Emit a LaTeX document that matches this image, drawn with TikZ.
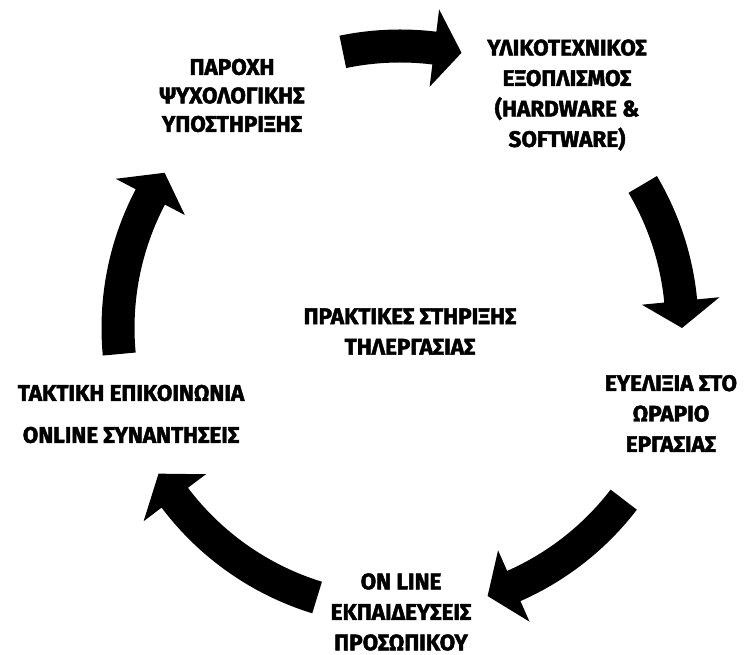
\documentclass[tikz,border=0pt]{standalone}
\usepackage{fontspec}
\setmainfont{Fira Sans}
\newfontfamily\heavyfont{Fira Sans}[UprightFont=* Bold, FakeBold=2]
\newcommand\blockarc[3]{%
  \fill[blockarrow, shift={(400,327)}]
    (#1:298.5) arc[start angle=#1, end angle=#2, radius=298.5]
    -- (#2:321) -- (#3:282) -- (#2:243) -- (#2:265.5)
    arc[start angle=#2, end angle=#1, radius=265.5] -- cycle;}
\begin{document}
\begin{tikzpicture}[x=1pt,y=1pt,
  lbl/.style={align=center, inner sep=0pt, font=\heavyfont\fontsize{22.5}{30.5}\selectfont},
  blockarrow/.style={fill=black, draw=none}]
\useasboundingbox (0,0) rectangle (746,655);
\fill[white] (0,0) rectangle (746,655);
% labels
\node[lbl, font=\heavyfont\fontsize{22.5}{28.5}\selectfont] (psy) at (232,559.5) {ΠΑΡΟΧΗ\\ΨΥΧΟΛΟΓΙΚΗΣ\\ΥΠΟΣΤΗΡΙΞΗΣ};
\node[lbl] (hw) at (567,560) {ΥΛΙΚΟΤΕΧΝΙΚΟΣ\\ΕΞΟΠΛΙΣΜΟΣ\\(HARDWARE \&\\SOFTWARE)};
\node[lbl] (ctr) at (410,323.5) {ΠΡΑΚΤΙΚΕΣ ΣΤΗΡΙΞΗΣ\\ΤΗΛΕΡΓΑΣΙΑΣ};
\node[lbl, font=\heavyfont\fontsize{22.5}{42}\selectfont] (com) at (131,241) {ΤΑΚΤΙΚΗ ΕΠΙΚΟΙΝΩΝΙΑ\\ONLINE ΣΥΝΑΝΤΗΣΕΙΣ};
\node[lbl] (flex) at (671,241.5) {ΕΥΕΛΙΞΙΑ ΣΤΟ\\ΩΡΑΡΙΟ\\ΕΡΓΑΣΙΑΣ};
\node[lbl] (edu) at (401,43) {ON LINE\\ΕΚΠΑΙΔΕΥΣΕΙΣ\\ΠΡΟΣΩΠΙΚΟΥ};
% cycle arrows
\blockarc{101.7}{83}{77.4}
\blockarc{30.6}{5.5}{0}
\blockarc{-37.5}{-66.2}{-71.9}
\blockarc{-107.1}{-143}{-148.9}
\blockarc{185.3}{152.3}{146.6}
\end{tikzpicture}
\end{document}
